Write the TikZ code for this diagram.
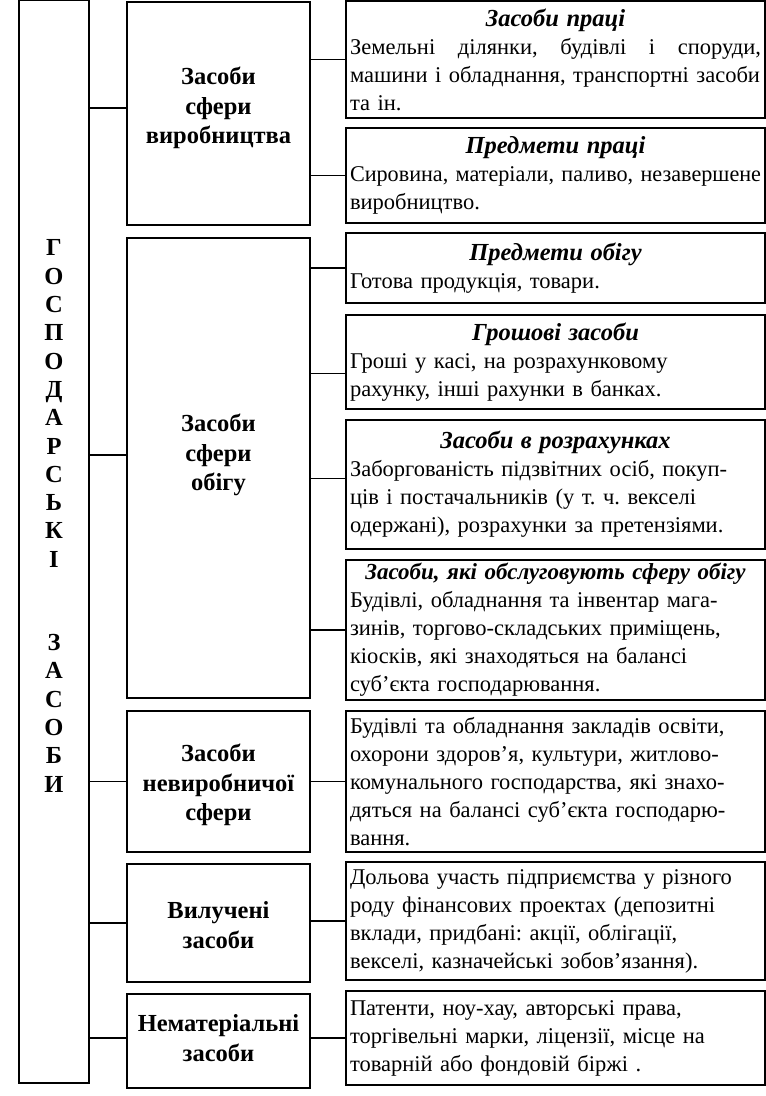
\documentclass[tikz,border=0pt]{standalone}
\usepackage{fontspec}
\usepackage{graphicx}
\setmainfont{Liberation Serif}
\frenchspacing
\tikzset{every picture/.style={line width=1.2pt}}
\tikzset{
  sidebox/.style={draw, minimum width=70, minimum height=#1, inner sep=0pt},
  sidetext/.style={align=center, inner sep=0pt, font=\fontsize{24.5}{28.3}\selectfont\bfseries},
  midbox/.style={draw, minimum width=183, minimum height=#1, inner sep=0pt},
  midtext/.style={align=center, inner sep=0pt, font=\fontsize{24.5}{29.5}\selectfont\bfseries},
  rbox/.style={draw, minimum width=419, minimum height=#1, text width=411, inner xsep=4, inner ysep=0.5, align=left, font=\fontsize{22.5}{28}\selectfont}
}
\newcommand{\rtitle}[2][24.5]{\leavevmode\hbox to \hsize{\hss\fontsize{#1}{28}\selectfont\bfseries\itshape #2\hss}\\}
\newcommand{\fullline}[1]{\leavevmode\hbox to \hsize{\spaceskip=0.25em plus 1em minus 0.1em #1}\\}
\newcommand{\fitline}[1]{\leavevmode\resizebox{\hsize}{\height}{#1}\\}

\begin{document}
\begin{tikzpicture}[x=1pt,y=1pt,yscale=-1,xscale=1]
\useasboundingbox (0,0) rectangle (766,1096);

%Shape: Rectangle [left column]
\node[sidebox=1083] (gosp) at (54,541.5) {};
% Text Node
\node[sidetext] (gosptext) at (54,516) {Г\\О\\С\\П\\О\\Д\\А\\Р\\С\\Ь\\К\\І\\[55pt]З\\А\\С\\О\\Б\\И};

%Shape: Rectangle [middle column]
\node[midbox=223] (m1) at (218.5,113.5) {};
\node[midbox=460] (m2) at (218.5,468) {};
\node[midbox=141] (m3) at (218.5,781.5) {};
\node[midbox=118] (m4) at (218.5,923) {};
\node[midbox=94] (m5) at (218.5,1041) {};
% Text Node
\node[midtext] (m1t) at (218.5,108) {Засоби\\сфери\\виробництва};
% Text Node
\node[midtext] (m2t) at (218.5,455) {Засоби\\сфери\\обігу};
% Text Node
\node[midtext] (m3t) at (218.5,785) {Засоби\\невиробничої\\сфери};
% Text Node
\node[midtext] (m4t) at (218.5,925) {Вилучені\\засоби};
% Text Node
\node[midtext] (m5t) at (218.5,1038) {Нематеріальні\\засоби};

%Shape: Rectangle [right column]
\node[rbox=117] (r1) at (555.5,59.5) {\rtitle{Засоби праці}\fullline{Земельні ділянки, будівлі і споруди,}машини і обладнання, транспортні засоби\\та ін.};
\node[rbox=95] (r2) at (555.5,175.5) {\rtitle{Предмети праці}\fitline{Сировина, матеріали, паливо, незавершене}виробництво.};
\node[rbox=70] (r3) at (555.5,268) {\rtitle{Предмети обігу}Готова продукція, товари.};
\node[rbox=94] (r4) at (555.5,362) {\rtitle{Грошові засоби}Гроші у касі, на розрахунковому\\рахунку, інші рахунки в банках.};
\node[rbox=129] (r5) at (555.5,484.5) {\rtitle{Засоби в розрахунках}Заборгованість підзвітних осіб, покуп-\\ців і постачальників (у т. ч. векселі\\одержані), розрахунки за претензіями.};
\node[rbox=140] (r6) at (555.5,630) {\rtitle[23]{Засоби, які обслуговують сферу обігу}Будівлі, обладнання та інвентар мага-\\зинів, торгово-складських приміщень,\\кіосків, які знаходяться на балансі\\суб’єкта господарювання.};
\node[rbox=141] (r7) at (555.5,781.5) {Будівлі та обладнання закладів освіти,\\охорони здоров’я, культури, житлово-\\комунального господарства, які знахо-\\дяться на балансі суб’єкта господарю-\\вання.};
\node[rbox=118] (r8) at (555.5,921) {Дольова участь підприємства у різного\\роду фінансових проектах (депозитні\\вклади, придбані: акції, облігації,\\векселі, казначейські зобов’язання).};
\node[rbox=94] (r9) at (555.5,1038) {Патенти, ноу-хау, авторські права,\\торгівельні марки, ліцензії, місце на\\товарній або фондовій біржі .};

%Straight Lines [left to middle]
\draw (gosp.east |- m1t) -- (m1.west |- m1t);
\draw (gosp.east |- m2t) -- (m2.west |- m2t);
\draw (gosp.east |- m3) -- (m3.west);
\draw (gosp.east |- m4) -- (m4.west);
\draw (gosp.east |- m5t) -- (m5.west |- m5t);

%Straight Lines [middle to right]
\draw (m1.east |- r1.west) -- (r1.west);
\draw (m1.east |- r2.west) -- (r2.west);
\draw (m2.east |- r3.west) -- (r3.west);
\draw (m2.east |- r4.south west) ++(0,-36) coordinate (c4) -- (r4.west |- c4);
\draw (m2.east |- r5.west) ++(0,-6) coordinate (c5) -- (r5.west |- c5);
\draw (m2.east |- r6.west) -- (r6.west);
\draw (m3.east) -- (r7.west);
\draw (m4.east |- r8.west) -- (r8.west);
\draw (m5.east |- r9.west) -- (r9.west);

\end{tikzpicture}
\end{document}
